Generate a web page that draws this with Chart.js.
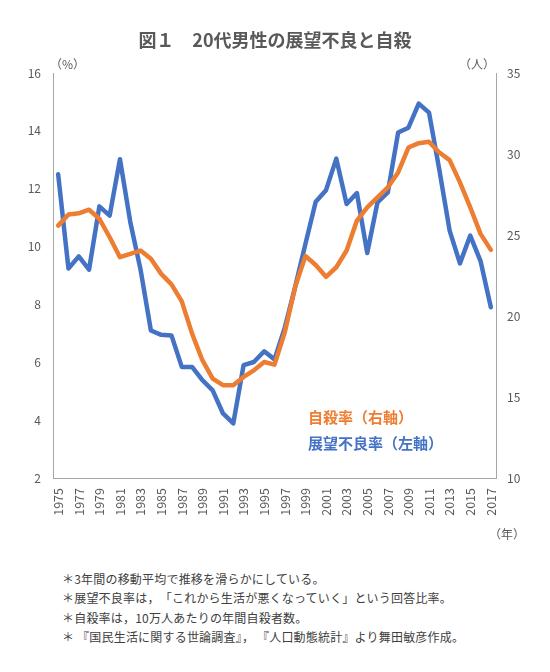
<!DOCTYPE html>
<html><head><meta charset="utf-8">
<script src="https://cdn.jsdelivr.net/npm/chart.js@4"></script>
<style>
html,body{margin:0;padding:0;background:#fff;}
#wrap{position:relative;width:550px;height:672px;overflow:hidden;font-family:"Noto Sans CJK JP","Noto Sans",sans-serif;}
#cv{position:absolute;left:0;top:0;}
.t{position:absolute;white-space:pre;}
.fn{font-size:12px;line-height:12px;color:#404040;letter-spacing:0.2px;left:62px;}
</style></head>
<body><div id="wrap">
<canvas id="cv" width="550" height="540" style="width:550px;height:540px"></canvas>
<div class="t" style="left:0;width:550px;text-align:center;top:30px;font-size:18px;line-height:18px;font-weight:bold;color:#595959;">図１　20代男性の展望不良と自殺</div>
<div class="t" style="left:50px;top:58px;font-size:12px;line-height:12px;color:#595959;">（%）</div>
<div class="t" style="left:459px;top:58px;font-size:12px;line-height:12px;color:#595959;">（人）</div>
<div class="t" style="left:489px;top:528px;font-size:12px;line-height:12px;color:#595959;">（年）</div>
<div class="t" style="left:308px;top:409px;font-size:15px;line-height:15px;font-weight:bold;color:#ED7D31;">自殺率（右軸）</div>
<div class="t" style="left:308px;top:435px;font-size:15px;line-height:15px;font-weight:bold;color:#4472C4;">展望不良率（左軸）</div>
<div class="t fn" style="top:573px;">＊3年間の移動平均で推移を滑らかにしている。</div>
<div class="t fn" style="top:592px;">＊展望不良率は，　「これから生活が悪くなっていく」という回答比率。</div>
<div class="t fn" style="top:612px;">＊自殺率は，10万人あたりの年間自殺者数。</div>
<div class="t fn" style="top:631px;">＊ 『国民生活に関する世論調査』， 『人口動態統計』より舞田敏彦作成。</div>
</div>
<script>
const years = ['1975','1976','1977','1978','1979','1980','1981','1982','1983','1984','1985','1986','1987','1988','1989','1990','1991','1992','1993','1994','1995','1996','1997','1998','1999','2000','2001','2002','2003','2004','2005','2006','2007','2008','2009','2010','2011','2012','2013','2014','2015','2016','2017'];
const outlookPoor = [12.5,9.24,9.66,9.2,11.39,11.07,13.02,10.85,9.2,7.1,6.95,6.93,5.84,5.84,5.38,5.03,4.23,3.89,5.9,6.01,6.38,6.1,7.2,8.6,10.09,11.55,11.95,13.04,11.47,11.85,9.78,11.53,11.87,13.94,14.11,14.94,14.63,12.65,10.55,9.42,10.38,9.5,7.9];
const suicideRate = [25.58,26.26,26.34,26.56,26.0,24.86,23.63,23.84,24.04,23.53,22.6,21.95,20.9,18.91,17.27,16.14,15.73,15.73,16.24,16.65,17.16,17.0,19.0,21.78,23.7,23.15,22.42,23.01,24.04,25.89,26.71,27.32,27.94,28.86,30.4,30.67,30.75,30.09,29.62,28.25,26.71,25.07,24.08];
const leftTicks = {min:2, max:16, step:2};
const rightTicks = {min:10, max:35, step:5};

const tickFont = {family:'"Noto Sans CJK JP","Noto Sans",sans-serif', size:12};
const xTickFont = {family:'"Noto Sans CJK JP","Noto Sans",sans-serif', size:12.5};
const axisColor = '#a6a6a6';
const tickColor = '#595959';

new Chart(document.getElementById('cv'), {
  type:'line',
  data:{
    labels: years,
    datasets:[
      {label:'展望不良率', data: outlookPoor, yAxisID:'yL', borderColor:'#4472C4', borderWidth:4.5, pointRadius:0, tension:0, borderJoinStyle:'round', borderCapStyle:'round', order:1},
      {label:'自殺率', data: suicideRate, yAxisID:'yR', borderColor:'#ED7D31', borderWidth:4.5, pointRadius:0, tension:0, borderJoinStyle:'round', borderCapStyle:'round', order:0}
    ]
  },
  options:{
    responsive:false, animation:false, devicePixelRatio:1,
    layout:{padding:{top:73,left:0,right:0,bottom:0}},
    plugins:{legend:{display:false}, tooltip:{enabled:false}},
    scales:{
      x:{
        offset:true,
        grid:{display:false, drawTicks:false},
        border:{display:true, color:axisColor, width:1},
        ticks:{autoSkip:false, minRotation:90, maxRotation:90, padding:10, color:tickColor, font:xTickFont,
          callback:function(v, i){ return i % 2 === 0 ? years[i] : ''; }},
        afterFit:function(s){ s.height = 62; }
      },
      yL:{
        position:'left', min:leftTicks.min, max:leftTicks.max,
        grid:{display:false, drawTicks:false},
        border:{display:true, color:axisColor, width:1},
        ticks:{stepSize:leftTicks.step, padding:12, color:tickColor, font:tickFont},
        afterFit:function(s){ s.width = 53; }
      },
      yR:{
        position:'right', min:rightTicks.min, max:rightTicks.max,
        grid:{display:false, drawTicks:false},
        border:{display:true, color:axisColor, width:1},
        ticks:{stepSize:rightTicks.step, padding:11, color:tickColor, font:tickFont},
        afterFit:function(s){ s.width = 54; }
      }
    }
  }
});
</script>
</body></html>
